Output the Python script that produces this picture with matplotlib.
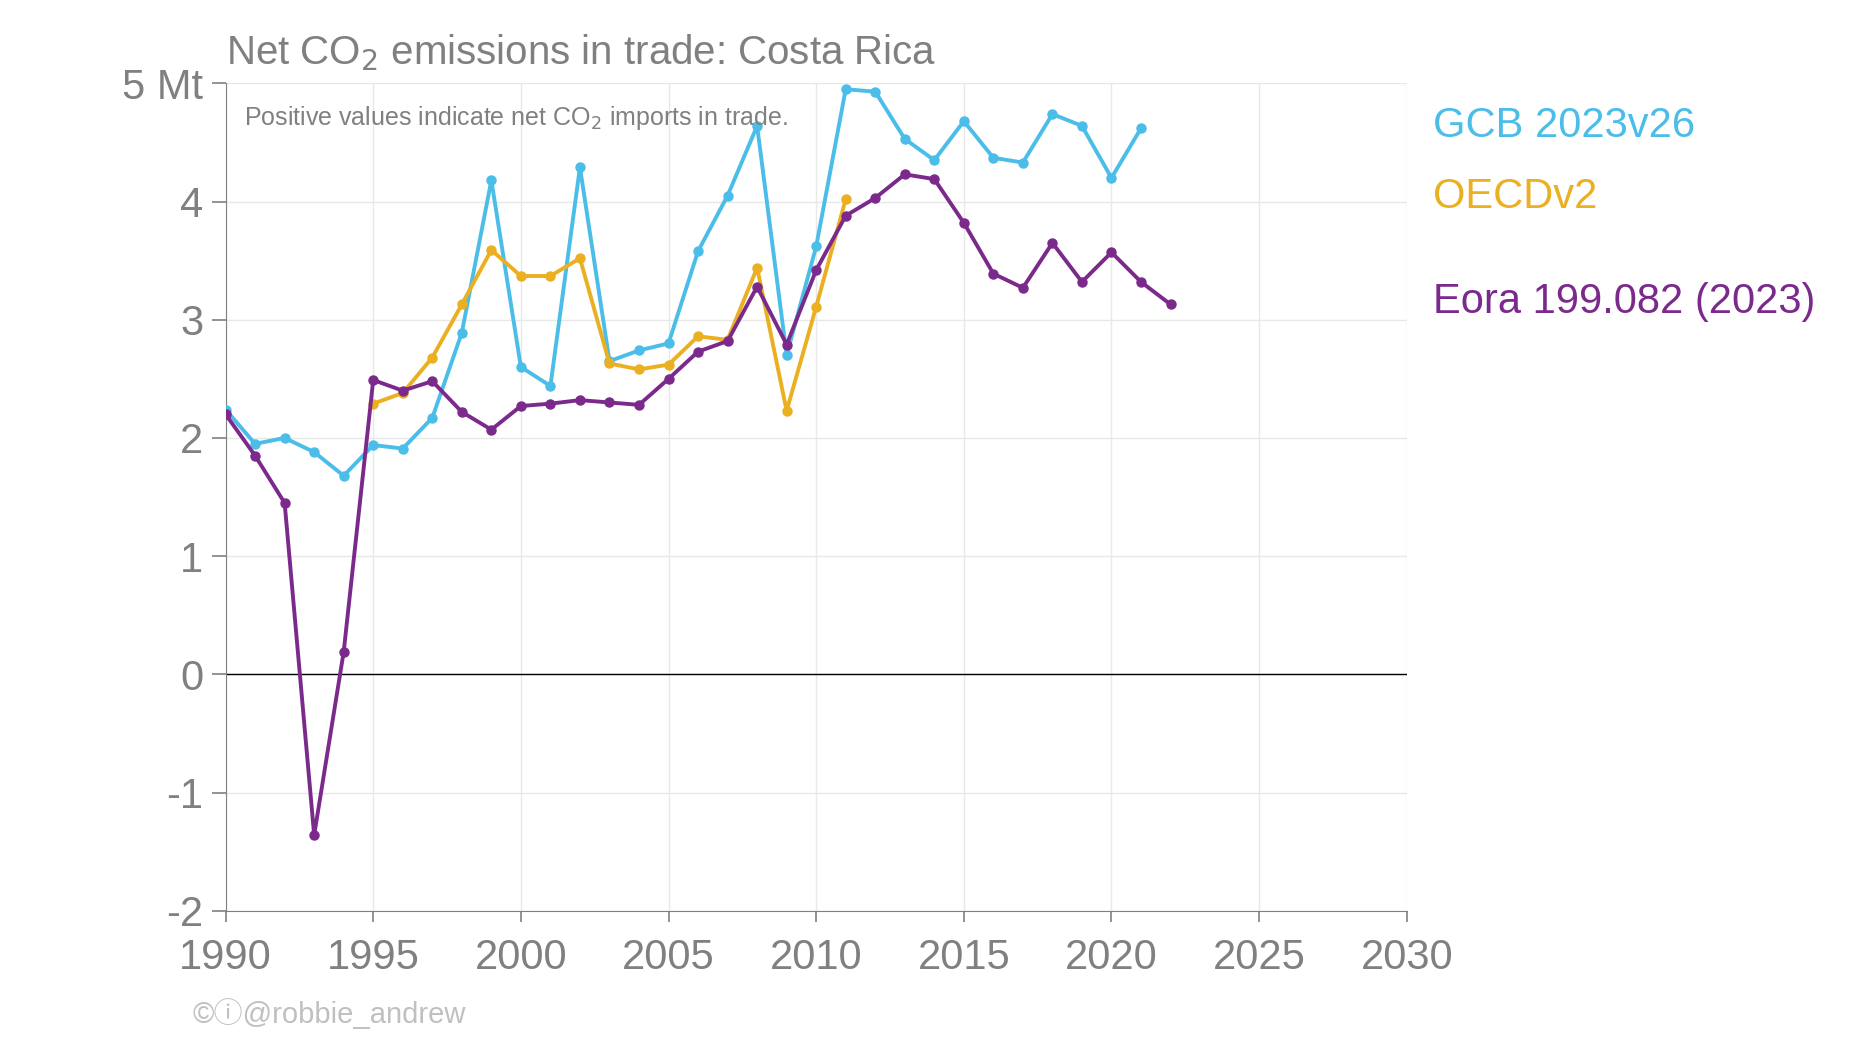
import numpy as np
import matplotlib.pyplot as plt

plt.rcParams['font.family'] = ['Liberation Sans', 'DejaVu Sans', 'Noto Sans CJK SC']

gcb_years = list(range(1990, 2022))
gcb = [2.24, 1.95, 2.0, 1.88, 1.68, 1.94, 1.91, 2.17, 2.89, 4.18, 2.6, 2.44, 4.29, 2.65, 2.74, 2.8,
       3.58, 4.05, 4.64, 2.7, 3.62, 4.95, 4.93, 4.53, 4.35, 4.68, 4.37, 4.33, 4.74, 4.64, 4.2, 4.62]
oecd_years = list(range(1995, 2012))
oecd = [2.29, 2.38, 2.68, 3.13, 3.59, 3.37, 3.37, 3.52, 2.63, 2.58, 2.62, 2.86, 2.83, 3.44, 2.23, 3.11, 4.02]
eora_years = list(range(1990, 2023))
eora = [2.2, 1.85, 1.45, -1.36, 0.19, 2.49, 2.4, 2.48, 2.22, 2.07, 2.27, 2.29, 2.32, 2.3, 2.28, 2.5,
        2.73, 2.82, 3.28, 2.79, 3.42, 3.88, 4.03, 4.23, 4.19, 3.82, 3.39, 3.27, 3.65, 3.32, 3.57, 3.32, 3.13]

c_gcb = '#4bbde9'
c_oecd = '#ebb021'
c_eora = '#7b2a8c'
grey = '#808080'

fig = plt.figure(figsize=(18.52, 10.42), dpi=100)
ax = fig.add_axes([0.1218, 0.126, 0.6378, 0.794])

for yrs, vals, c in [(gcb_years, gcb, c_gcb), (oecd_years, oecd, c_oecd), (eora_years, eora, c_eora)]:
    ax.plot(yrs, vals, color=c, lw=2.8, marker='o', ms=6.5, zorder=3)

ax.axhline(0, color='black', lw=1, zorder=2)
ax.set_xlim(1990, 2030)
ax.set_ylim(-2, 5)
ax.set_xticks(range(1990, 2031, 5))
ax.set_yticks(range(-2, 6))
ax.set_yticklabels(['-2', '-1', '0', '1', '2', '3', '4', '5 Mt'])
ax.grid(color='#e8e8e8', lw=1)
ax.set_axisbelow(True)
for s in ['top', 'right']:
    ax.spines[s].set_visible(False)
for s in ['left', 'bottom']:
    ax.spines[s].set_color(grey)
ax.tick_params(colors=grey, labelsize=30, length=8, width=1.2, labelcolor=grey)
ax.tick_params(axis='x', pad=12)
ax.tick_params(axis='y', length=10, pad=6)

fig.text(0.1218, 0.93, 'Net CO$_2$ emissions in trade: Costa Rica', fontsize=29, color=grey,
         ha='left', va='bottom')
ax.text(0.016, 0.975, 'Positive values indicate net CO$_2$ imports in trade.', transform=ax.transAxes,
        fontsize=18, color=grey, ha='left', va='top')

for label, y, c in [('GCB 2023v26', 4.64, c_gcb), ('OECDv2', 4.04, c_oecd), ('Eora 199.082 (2023)', 3.15, c_eora)]:
    ax.text(2030.9, y, label, color=c, fontsize=30, ha='left', va='center', clip_on=False)

fig.text(0.104, 0.012, '\u00a9\u24d8@robbie_andrew', fontsize=21, color='#c0c0c0', ha='left', va='bottom',
         family=['Liberation Sans', 'DejaVu Sans', 'Noto Sans CJK SC'])

fig.savefig('out.png', dpi=100)
